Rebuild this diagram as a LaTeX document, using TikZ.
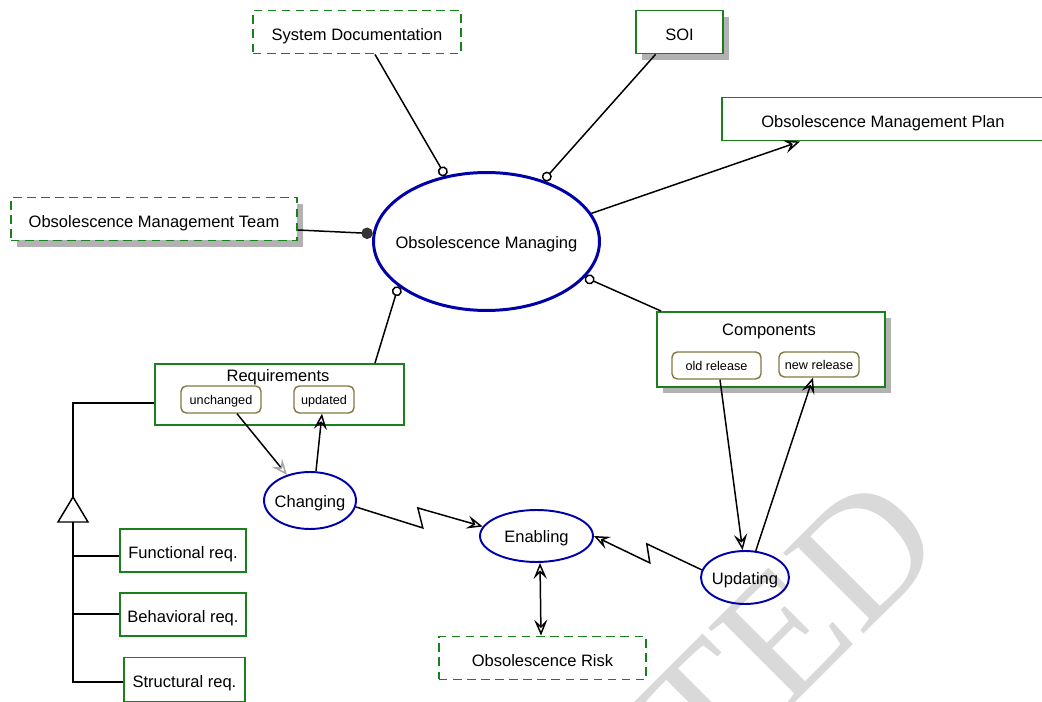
\documentclass[tikz,border=0pt]{standalone}
\usepackage{fontspec}
\setmainfont{Liberation Sans}
\newfontfamily\wmfont{Liberation Serif}
\usetikzlibrary{arrows.meta,shadows,shapes.geometric}
\definecolor{boxgreen}{RGB}{26,128,26}
\definecolor{ovalblue}{RGB}{0,0,170}
\definecolor{tagolive}{RGB}{128,122,64}
\newcommand{\boxfont}{\fontsize{9.4}{11}\selectfont}
\newcommand{\tagfont}{\fontsize{7.2}{8}\selectfont}

\begin{document}
\begin{tikzpicture}[x=0.02cm,y=-0.02cm]
                        \tikzstyle{thing}=[draw=boxgreen,line width=1.1pt,inner sep=0pt,minimum height=0.86cm,text height=9.2pt,text depth=0pt,font=\boxfont]
                        \tikzstyle{ext}=[thing,dash pattern=on 4.8pt off 3.2pt]
                        \tikzstyle{lifted}=[fill=white,drop shadow={shadow xshift=3.6pt,shadow yshift=-3.6pt,fill=black!30,opacity=1}]
                        \tikzstyle{proc}=[ellipse,draw=ovalblue,line width=1.1pt,inner xsep=-0.15cm,inner ysep=0pt,text height=7.6pt,text depth=0pt,font=\boxfont]
                        \tikzstyle{tag}=[draw=tagolive,rounded corners=3pt,line width=0.8pt,inner sep=0pt,minimum height=0.54cm,text height=6pt,text depth=0.5pt,font=\tagfont]
                        \tikzstyle{link}=[line width=0.85pt]
                        \tikzstyle{flow}=[link,-{Stealth[open,length=9pt,width=7.5pt,inset=3.5pt]}]
                        \tikzstyle{agent}=[link,-{Circle[length=6.5pt,color=black!80]}]
                        \tikzstyle{inst}=[link,-{Circle[fill=white,length=5.7pt]}]
                        \useasboundingbox (0,0) rectangle (1042,702);
                        \clip (0,0) rectangle (1042,702);
                        \node[text=black!15,font=\wmfont\fontsize{99}{99}\selectfont,rotate=45,anchor=base east,inner sep=0pt] (wmark) at (950,548) {ACCEPTED};
                        \node[ext,minimum width=4.16cm] (sysdoc) at (357,32) {System Documentation};
                        \node[thing,lifted,minimum width=1.74cm] (soi) at (679.5,32) {SOI};
                        \node[thing,minimum width=6.44cm] (plan) at (883,119) {Obsolescence Management Plan};
                        \node[ext,lifted,minimum width=5.72cm] (team) at (154,219) {Obsolescence Management Team};
                        \node[proc,line width=1.7pt,inner xsep=-0.24cm,minimum width=4.52cm,minimum height=2.76cm] (managing) at (486.5,241.5) {Obsolescence Managing};
                        \node[thing,minimum width=4.98cm,minimum height=1.22cm] (req) at (279.5,394.5) {};
                        \node[font=\boxfont,inner sep=0pt] (reqname) at (278,377) {Requirements};
                        \node[tag,minimum width=1.6cm] (unch) at (221,399.5) {unchanged};
                        \node[tag,minimum width=1.2cm] (upd) at (324,399.5) {updated};
                        \node[thing,lifted,minimum width=4.56cm,minimum height=1.5cm] (comp) at (771,349.5) {};
                        \node[font=\boxfont,inner sep=0pt] (compname) at (769,331) {Components};
                        \node[tag,minimum width=1.78cm] (oldrel) at (716.5,365.5) {old release};
                        \node[tag,minimum width=1.6cm,minimum height=0.5cm] (newrel) at (819,364.5) {new release};
                        \node[proc,minimum width=1.84cm,minimum height=1.14cm] (changing) at (310,500.5) {Changing};
                        \node[proc,minimum width=2.26cm,minimum height=1.04cm] (enabling) at (536.5,536) {Enabling};
                        \node[proc,minimum width=1.76cm,minimum height=1.06cm] (updating) at (745,577.5) {Updating};
                        \node[ext,minimum width=4.14cm] (risk) at (542.5,658) {Obsolescence Risk};
                        \node[thing,minimum width=2.52cm] (func) at (183,550.5) {Functional req.};
                        \node[thing,minimum width=2.52cm] (behav) at (183,614.5) {Behavioral req.};
                        \node[thing,minimum width=2.42cm,minimum height=0.88cm] (struct) at (184.5,679.5) {Structural req.};
                        \coordinate (gtop) at (73,403);
                        \coordinate (gapex) at (73,497);
                        \coordinate (gbase) at (73,522);
                        \coordinate (bfunc) at (73,556);
                        \coordinate (bbehav) at (73,614);
                        \coordinate (bstruct) at (73,682);
                        \draw[link] (gtop -| req.west) -- (gtop) -- (gapex);
                        \draw[link] (gapex) -- ++(-15,25) -- ++(30,0) -- cycle;
                        \draw[link] (gbase) -- (bstruct) -- (bstruct -| struct.west);
                        \draw[link] (bfunc) -- (bfunc -| func.west);
                        \draw[link] (bbehav) -- (bbehav -| behav.west);
                        \draw[inst] ([xshift=0.36cm]sysdoc.south) -- (managing.122);
                        \draw[inst] ([xshift=-0.48cm]soi.south) -- (managing.47);
                        \draw[agent] ([yshift=-0.22cm]team.east) -- (managing.176);
                        \draw[flow] (managing.15) -- ([xshift=-1.66cm]plan.south);
                        \draw[inst] ([xshift=1.91cm]req.north) -- (managing.207);
                        \draw[inst] ([xshift=0.1cm]comp.north west) -- (managing.340);
                        \draw[link,-{Stealth[open,length=9pt,width=7.5pt,inset=3.5pt,color=black!35]}] ([xshift=0.32cm]unch.south) -- (changing.132);
                        \draw[flow] ([xshift=0.12cm]changing.north) -- ([xshift=-0.04cm]upd.south);
                        \draw[flow] (changing.-8) -- ++(67,21) -- ++(-5,-20) -- (enabling.170);
                        \draw[flow] (updating.170) -- ++(-55,-26) -- ++(3,19) -- (enabling.east);
                        \draw[link,{Stealth[open,length=9pt,width=7.5pt,inset=3.5pt]}-{Stealth[open,length=9pt,width=7.5pt,inset=3.5pt]}] ([xshift=0.07cm]enabling.south) -- ([xshift=-0.03cm]risk.north);
                        \draw[flow] ([xshift=0.07cm]oldrel.south) -- (updating.95);
                        \draw[flow] (updating.68) -- ([xshift=-0.12cm]newrel.south);
                    \end{tikzpicture}
\end{document}
